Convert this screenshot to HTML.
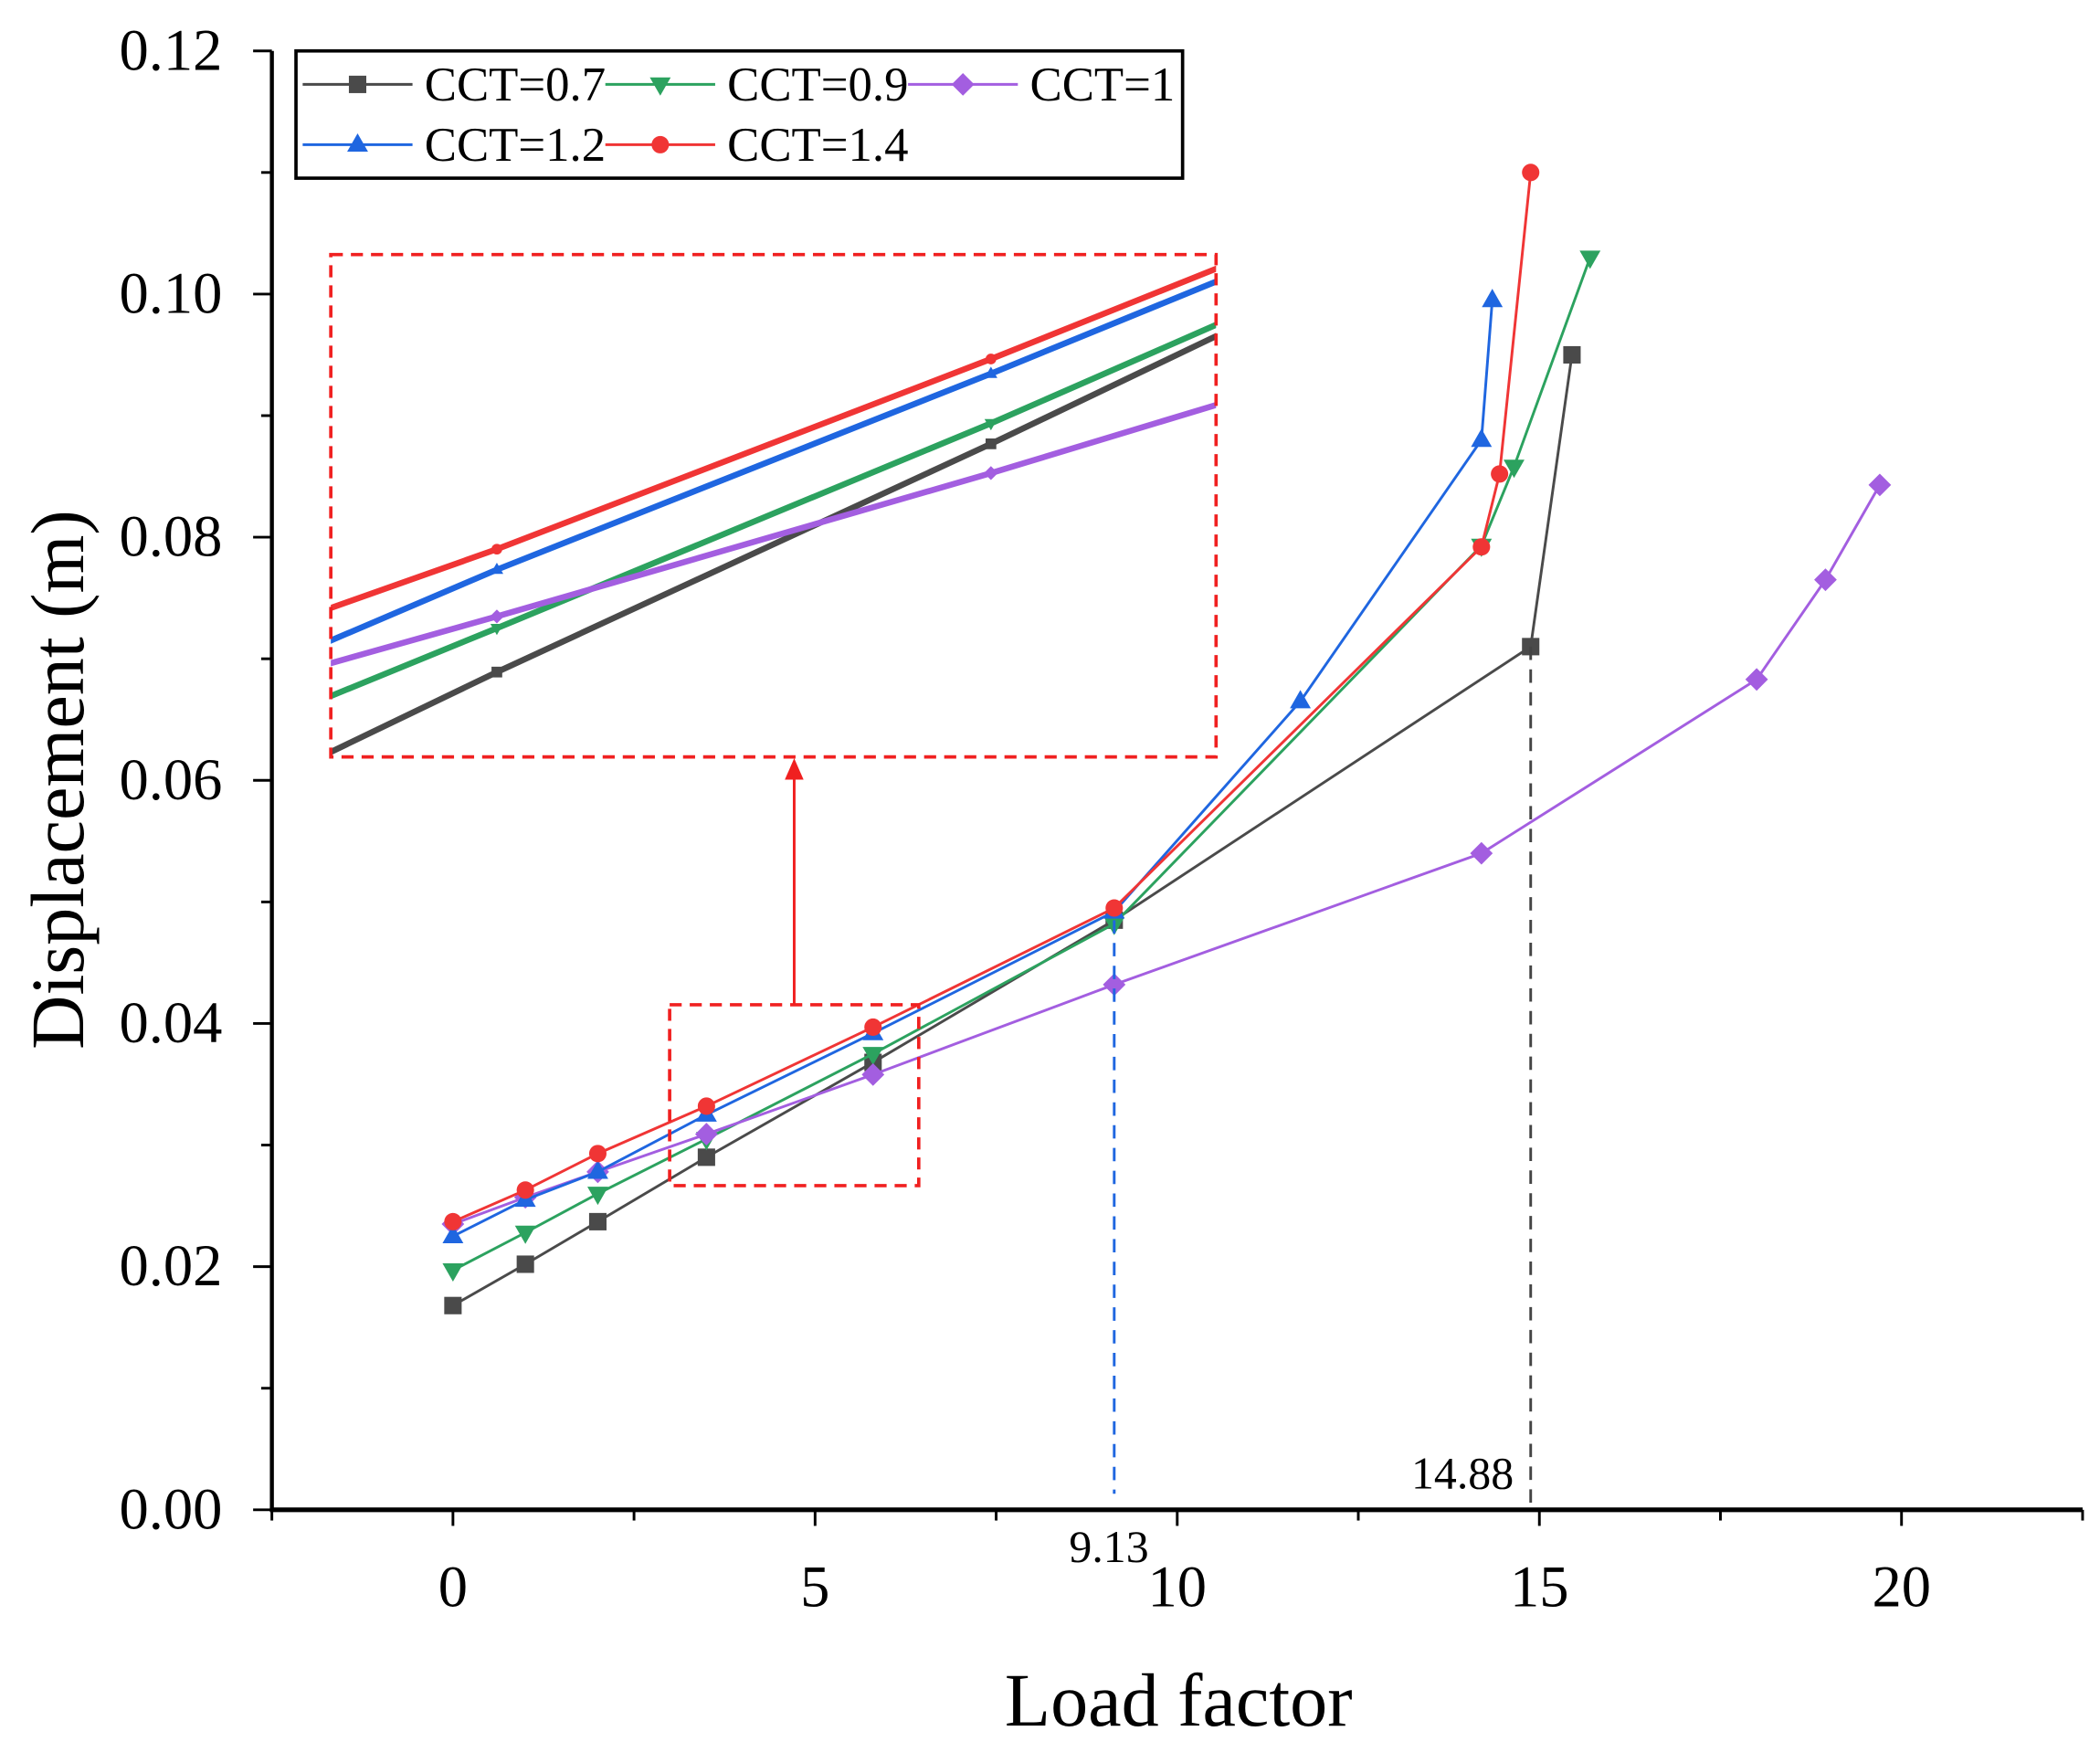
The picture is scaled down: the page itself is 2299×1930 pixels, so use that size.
<!DOCTYPE html>
<html><head><meta charset="utf-8">
<style>
html,body{margin:0;padding:0;background:#fff;}
svg{display:block;}
text{font-family:"Liberation Serif",serif;fill:#000;}
</style></head>
<body>
<svg id="chart" width="2299" height="1930" viewBox="0 0 1568 1316" preserveAspectRatio="none" xmlns="http://www.w3.org/2000/svg">
<defs>
<clipPath id="insetClip"><rect x="247" y="190" width="661" height="375"/></clipPath>
</defs>
<g id="axes"></g>
<g id="series"></g>
<g id="inset" clip-path="url(#insetClip)"></g>
<g id="annot"></g>
<g id="legend"></g>
</svg>
<script>
const seriesNames = ["CCT=0.7","CCT=0.9","CCT=1","CCT=1.2","CCT=1.4"];
const colors = ["#4a4a4a","#2ca25f","#a35ee0","#1f66e0","#f03535"];
const markers = ["square","tridown","diamond","triup","circle"];
const x07 = [0,1,2,3.5,5.8,9.13,14.88,15.45];
const y07 = [0.0168,0.0202,0.0237,0.029,0.0368,0.0485,0.071,0.095];
const x09 = [0,1,2,3.5,5.8,9.13,14.2,14.65,15.7];
const y09 = [0.0197,0.0228,0.026,0.0305,0.0375,0.0482,0.0793,0.0858,0.103];
const x10 = [0,1,2,3.5,5.8,9.13,14.2,18,18.95,19.7];
const y10 = [0.0235,0.0257,0.0278,0.0309,0.0358,0.0432,0.054,0.0683,0.0765,0.0843];
const x12 = [0,1,2,3.5,5.8,9.13,11.7,14.2,14.35];
const y12 = [0.0225,0.0255,0.0278,0.0325,0.0392,0.0492,0.0665,0.088,0.0995];
const x14 = [0,1,2,3.5,5.8,9.13,14.2,14.45,14.88];
const y14 = [0.0237,0.0263,0.0293,0.0332,0.0397,0.0495,0.0792,0.0852,0.11];
const xTicks = [0,5,10,15,20];
const yTicks = [0,0.02,0.04,0.06,0.08,0.10,0.12];
const yTickLabels = ["0.00","0.02","0.04","0.06","0.08","0.10","0.12"];

const XS=[x07,x09,x10,x12,x14], YS=[y07,y09,y10,y12,y14];
const NS="http://www.w3.org/2000/svg";
const X0=-2.5,X1=22.5,PL=203,PR=1555,PB=1127,PT=38;
const sx=v=>PL+(v-X0)/(X1-X0)*(PR-PL);
const sy=v=>PB-v/0.12*(PB-PT);
const IX0=2.727,IX1=6.848,IY0=0.0261,IY1=0.04327;
const ix=v=>247+(v-IX0)/(IX1-IX0)*661;
const iy=v=>565-(v-IY0)/(IY1-IY0)*375;
function mk(tag,attrs,parent){const e=document.createElementNS(NS,tag);for(const k in attrs)e.setAttribute(k,attrs[k]);parent.appendChild(e);return e;}
const axes=document.getElementById('axes');
let e=mk('line',{x1:PL,y1:PT,x2:PL,y2:PB,stroke:'#000','stroke-width':3},axes);


e=mk('line',{x1:PL-1.5,y1:PB,x2:PR,y2:PB,stroke:'#000','stroke-width':3.5},axes);


for(let v=-2.5;v<=22.51;v+=2.5){const major=Math.abs(v%5)<1e-6;
 e=mk('line',{x1:sx(v),y1:PB,x2:sx(v),y2:PB+(major?12:8),stroke:'#000','stroke-width':2},axes);
 
 }
xTicks.forEach(v=>{e=mk('text',{x:sx(v),y:1199,'font-size':44,'text-anchor':'middle'},axes);e.textContent=v;
 
 });
for(let i=0;i<=12;i++){const v=i*0.01;const major=i%2==0;
 e=mk('line',{x1:PL-(major?14:8),y1:sy(v),x2:PL,y2:sy(v),stroke:'#000','stroke-width':2},axes);
 
 }
yTicks.forEach((v,i)=>{e=mk('text',{x:166,y:sy(v)+14,'font-size':44,'text-anchor':'end'},axes);e.textContent=yTickLabels[i];
 
 });
e=mk('text',{x:880,y:1288,'font-size':56,'text-anchor':'middle'},axes);e.textContent='Load factor';


e=mk('text',{x:0,y:0,'font-size':56,'text-anchor':'middle',transform:'translate(62,582) rotate(-90)'},axes);e.textContent='Displacement (m)';



function marker(g,type,x,y,s,c){let el;
 if(type=='square')el=mk('rect',{x:x-s,y:y-s,width:2*s,height:2*s,fill:c},g);
 else if(type=='circle')el=mk('circle',{cx:x,cy:y,r:s,fill:c},g);
 else if(type=='diamond')el=mk('polygon',{points:`${x},${y-s*1.3} ${x+s*1.3},${y} ${x},${y+s*1.3} ${x-s*1.3},${y}`,fill:c},g);
 else if(type=='triup')el=mk('polygon',{points:`${x},${y-s*1.3} ${x+s*1.2},${y+s*0.8} ${x-s*1.2},${y+s*0.8}`,fill:c},g);
 else el=mk('polygon',{points:`${x},${y+s*1.3} ${x+s*1.2},${y-s*0.8} ${x-s*1.2},${y-s*0.8}`,fill:c},g);
 return el;}
const sg=document.getElementById('series'), ig=document.getElementById('inset');
XS.forEach((xs,k)=>{
 const g=mk('g',{},sg);
 
 
 const pl=mk('polyline',{points:xs.map((x,i)=>sx(x)+','+sy(YS[k][i])).join(' '),fill:'none',stroke:colors[k],'stroke-width':2},g);
 
 
 xs.forEach((x,i)=>{const m=marker(g,markers[k],sx(x),sy(YS[k][i]),6.5,colors[k]);
  
  });
 const ig2=mk('g',{},ig);
 
 
 const il=mk('polyline',{points:xs.map((x,i)=>ix(x)+','+iy(YS[k][i])).join(' '),fill:'none',stroke:colors[k],'stroke-width':4.5},ig2);
 
 
 xs.forEach((x,i)=>{const m=marker(ig2,markers[k],ix(x),iy(YS[k][i]),4,colors[k]);
  
  });
});
const an=document.getElementById('annot');
e=mk('rect',{x:247,y:190,width:661,height:375,fill:'none',stroke:'#f02020','stroke-width':2.5,'stroke-dasharray':'9,6'},an);


e=mk('rect',{x:500,y:750,width:186,height:135,fill:'none',stroke:'#f02020','stroke-width':2.5,'stroke-dasharray':'9,6'},an);


e=mk('line',{x1:593,y1:750,x2:593,y2:582,stroke:'#f02020','stroke-width':2},an);


e=mk('polygon',{points:'593,566 586,582 600,582',fill:'#f02020'},an);


e=mk('line',{x1:sx(9.13),y1:sy(0.0485),x2:sx(9.13),y2:1115,stroke:'#1f66e0','stroke-width':2,'stroke-dasharray':'10,7'},an);


e=mk('line',{x1:sx(14.88),y1:sy(0.071),x2:sx(14.88),y2:PB,stroke:'#444','stroke-width':2,'stroke-dasharray':'10,7'},an);


e=mk('text',{x:828,y:1166,'font-size':34,'text-anchor':'middle'},an);e.textContent='9.13';


e=mk('text',{x:1092,y:1111,'font-size':34,'text-anchor':'middle'},an);e.textContent='14.88';



const lg=document.getElementById('legend');
e=mk('rect',{x:221,y:38,width:662,height:95,fill:'#fff',stroke:'#000','stroke-width':2.5},lg);


const lpos=[[226,63],[452,63],[678,63],[226,108],[452,108]];
seriesNames.forEach((n,k)=>{const [x,y]=lpos[k];
 const g=mk('g',{},lg);
 
 
 mk('line',{x1:x,y1:y,x2:x+82,y2:y,stroke:colors[k],'stroke-width':2},g);
 marker(g,markers[k],x+41,y,6.5,colors[k]);
 const t=mk('text',{x:x+91,y:y+12,'font-size':36},g);t.textContent=n;});
</script>
</body></html>
